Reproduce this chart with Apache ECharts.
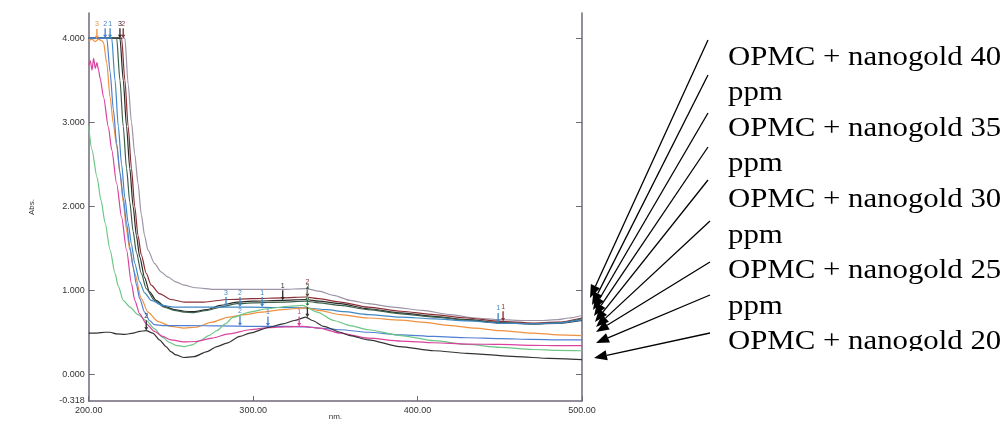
<!DOCTYPE html>
<html><head><meta charset="utf-8">
<script src="https://cdn.jsdelivr.net/npm/echarts@6/dist/echarts.min.js"></script>
<style>html,body{margin:0;padding:0;background:#fff}#c{width:1007px;height:421px}</style>
</head><body><div id="c"></div>
<script>
// ---- data (wavelength nm, absorbance) ----
const grayCurve = [[200,4.0],[222,4.0],[224,3.45],[226,3.0],[228,2.62],[230,2.27],[232,1.9],[234,1.65],[236,1.48],[240,1.32],[244,1.22],[248,1.16],[253,1.10],[258,1.06],[265,1.03],[277,1.01],[290,1.01],[300,1.01],[318,1.01],[332,1.02],[340,0.99],[349,0.94],[359,0.88],[370,0.84],[385,0.80],[403,0.76],[420,0.71],[435,0.67],[450,0.65],[465,0.64],[475,0.64],[485,0.65],[492,0.67],[500,0.70]];
const brownCurve = [[200,4.0],[220,4.0],[222,3.5],[224,2.95],[226,2.45],[228,2.0],[230,1.65],[232,1.42],[235,1.2],[238,1.06],[243,0.96],[250,0.89],[258,0.86],[270,0.86],[285,0.89],[300,0.90],[318,0.91],[332,0.92],[340,0.90],[353,0.86],[370,0.80],[390,0.75],[410,0.71],[430,0.67],[450,0.63],[470,0.61],[485,0.62],[500,0.67]];
const blackCurve = [[200,4.0],[219,4.0],[221,3.5],[223,2.95],[225,2.45],[227,2.0],[229,1.65],[231,1.4],[234,1.15],[237,0.98],[241,0.88],[246,0.81],[252,0.77],[258,0.75],[264,0.745],[272,0.77],[280,0.82],[290,0.86],[300,0.87],[318,0.88],[332,0.89],[340,0.87],[353,0.84],[370,0.78],[390,0.73],[410,0.69],[430,0.65],[450,0.615],[470,0.60],[485,0.605],[500,0.64]];
const darkGreenCurve = [[200,4.0],[217,4.0],[219,3.5],[221,2.95],[223,2.45],[225,2.05],[227,1.7],[229,1.45],[232,1.2],[235,1.02],[240,0.88],[246,0.80],[252,0.76],[258,0.74],[264,0.735],[272,0.76],[280,0.80],[290,0.84],[300,0.85],[318,0.86],[332,0.87],[340,0.85],[353,0.82],[370,0.77],[390,0.72],[410,0.68],[430,0.645],[450,0.61],[470,0.60],[485,0.61],[500,0.66]];
const tealCurve = [[200,4.0],[214,4.0],[216,3.5],[218,2.95],[220,2.5],[222,2.1],[224,1.8],[226,1.55],[228,1.32],[231,1.1],[234,0.97],[238,0.88],[245,0.82],[252,0.80],[260,0.80],[280,0.80],[298,0.80],[315,0.795],[330,0.79],[345,0.77],[355,0.745],[370,0.71],[390,0.68],[410,0.66],[430,0.635],[450,0.61],[470,0.60],[485,0.61],[500,0.65]];
const blueCurve = [[200,4.0],[211,4.0],[213,3.6],[215,3.15],[217,2.75],[219,2.4],[221,2.1],[223,1.8],[225,1.52],[227,1.28],[229,1.07],[231,0.9],[234,0.74],[237,0.64],[240,0.59],[245,0.58],[260,0.58],[280,0.575],[300,0.57],[320,0.57],[332,0.565],[340,0.55],[353,0.53],[370,0.50],[390,0.47],[410,0.45],[430,0.435],[450,0.425],[470,0.415],[485,0.41],[500,0.41]];
const orangeCurve = [[200,3.97],[202,3.99],[204,3.96],[206,3.99],[208,3.97],[209,3.95],[211,3.7],[213,3.3],[215,2.98],[217,2.72],[219,2.4],[221,2.05],[223,1.72],[225,1.48],[228,1.2],[232,0.9],[236,0.74],[242,0.63],[250,0.57],[258,0.55],[265,0.56],[275,0.62],[285,0.68],[295,0.71],[305,0.74],[318,0.77],[332,0.79],[340,0.76],[353,0.71],[370,0.67],[390,0.645],[403,0.62],[420,0.58],[435,0.55],[450,0.52],[470,0.49],[485,0.47],[500,0.46]];
const magentaCurve = [[200,3.68],[201,3.73],[202,3.62],[203,3.76],[204,3.64],[205,3.71],[206,3.62],[207,3.52],[209,3.3],[212,2.94],[214,2.67],[217,2.27],[220,1.87],[223,1.48],[226,1.08],[228,0.88],[231,0.72],[235,0.60],[240,0.51],[245,0.45],[250,0.41],[258,0.385],[265,0.39],[275,0.43],[285,0.48],[298,0.53],[310,0.555],[320,0.565],[330,0.57],[340,0.55],[353,0.49],[370,0.43],[390,0.395],[410,0.375],[430,0.36],[450,0.355],[470,0.345],[485,0.34],[500,0.34]];
const greenCurve = [[200,2.95],[202,2.67],[205,2.35],[207.5,2.07],[210,1.8],[213,1.48],[216,1.2],[218,1.05],[221,0.88],[225,0.80],[230,0.71],[235,0.64],[240,0.54],[245,0.44],[249,0.38],[253,0.345],[258,0.33],[263,0.35],[268,0.405],[273,0.46],[278,0.52],[283,0.60],[288,0.68],[298,0.74],[308,0.78],[322,0.81],[330,0.82],[339,0.74],[349,0.64],[359,0.58],[370,0.53],[390,0.46],[410,0.40],[430,0.355],[450,0.32],[470,0.295],[485,0.285],[500,0.28]];
const lowBlackCurve = [[200,0.49],[205,0.49],[210,0.50],[213,0.50],[217,0.48],[222,0.475],[227,0.49],[231,0.51],[235,0.52],[239,0.49],[243,0.41],[247,0.33],[250,0.27],[253,0.23],[258,0.20],[264,0.21],[272,0.27],[278,0.33],[284,0.37],[292,0.45],[298,0.49],[310,0.56],[318,0.60],[325,0.64],[332,0.68],[336,0.64],[343,0.57],[353,0.50],[359,0.46],[370,0.41],[389,0.33],[410,0.28],[430,0.25],[460,0.21],[480,0.19],[500,0.175]];

// peak-pick markers: [nm, abs, label]
const grayPeaks = [];
const brownPeaks = [[333,0.92,'2'],[452,0.63,'1'],[221,4.0,'2']];
const blackPeaks = [[318,0.88,'1'],[219,4.0,'3']];
const darkGreenPeaks = [[333,0.87,'3']];
const tealPeaks = [[283.5,0.80,'3'],[292,0.80,'2'],[305.5,0.80,'1'],[449,0.61,'1'],[213,4.0,'1']];
const bluePeaks = [[292,0.575,'2'],[309,0.57,'1'],[210,4.0,'2']];
const orangePeaks = [[205,3.99,'3']];
const magentaPeaks = [[328,0.57,'1']];
const greenPeaks = [[333,0.81,'1']];
const lowBlackPeaks = [[235,0.52,'2'],[333,0.68,'1']];

const yTickLabels = [-0.318, 0, 1, 2, 3, 4];
const yTicks = [0, 1, 2, 3, 4];
const xMin = 200, xMax = 500, xStep = 100;
const legendLines = ["OPMC + nanogold 40", "ppm", "OPMC + nanogold 35", "ppm", "OPMC + nanogold 30", "ppm", "OPMC + nanogold 25", "ppm", "OPMC + nanogold 20"];

// ---- annotation geometry (pixels) ----
const arrowGeom = [
  [708,40,590,298],[708,75,592,305],[708,113,593,310],[708,147,594,316],[708,180,595,322],
  [710,221,596,327],[710,262,596,332],[710,295,596,343],[710,333,594,358]
];

const curves = [
  [grayCurve,'#9d94a6',grayPeaks],[brownCurve,'#8c2f34',brownPeaks],[blackCurve,'#2a2a2a',blackPeaks],[darkGreenCurve,'#3b6049',darkGreenPeaks],
  [tealCurve,'#3f88c5',tealPeaks],[orangeCurve,'#f0913f',orangePeaks],[blueCurve,'#4f7fd3',bluePeaks],[greenCurve,'#6cc686',greenPeaks],
  [magentaCurve,'#d9429e',magentaPeaks],[lowBlackCurve,'#333333',lowBlackPeaks]
];

const axisColor = '#6f6878';
const arrowPath = 'path://M2,0 L4,0 L4,8 L6,8 L3,12 L0,8 L2,8 Z';
const chart = echarts.init(document.getElementById('c'));

const graphics = [];
arrowGeom.forEach(function(a){
  const dx=a[2]-a[0], dy=a[3]-a[1], L=Math.sqrt(dx*dx+dy*dy), ux=dx/L, uy=dy/L;
  const hl=13, hw=5;
  const bx=a[2]-ux*hl, by=a[3]-uy*hl, nx=-uy, ny=ux;
  graphics.push({type:'line', shape:{x1:a[0],y1:a[1],x2:bx,y2:by}, style:{stroke:'#000',lineWidth:1.3}, z:50});
  graphics.push({type:'polygon', shape:{points:[[a[2],a[3]],[bx+nx*hw,by+ny*hw],[bx-nx*hw,by-ny*hw]]}, style:{fill:'#000'}, z:50});
});
graphics.push({type:'text', x:728, y:39.5, scaleX:1.1, z:40,
  style:{text:legendLines.join('\n'), font:'28px "Liberation Serif"', fill:'#000', lineHeight:35.6, verticalAlign:'top', align:'left'}});
graphics.push({type:'rect', shape:{x:715,y:351,width:292,height:70}, style:{fill:'#fff'}, z:60});

chart.setOption({
  animation:false,
  backgroundColor:'#fff',
  grid:{left:88.7, right:425, top:13, bottom:20, containLabel:false, outerBoundsMode:'none'},
  xAxis:{type:'value', min:xMin, max:xMax, interval:xStep,
    name:'nm.', nameLocation:'middle', nameGap:12, nameMoveOverlap:false,
    nameTextStyle:{fontSize:8, color:'#333', fontFamily:'Liberation Sans'},
    axisLine:{show:true, onZero:false, lineStyle:{color:axisColor, width:1.5}},
    axisTick:{show:true, inside:true, length:5, lineStyle:{color:axisColor}},
    axisLabel:{formatter:function(v){return v.toFixed(2);}, fontSize:9, color:'#333', fontFamily:'Liberation Sans', margin:5, showMinLabel:true, showMaxLabel:true},
    splitLine:{show:false}},
  yAxis:[{type:'value', min:-0.318, max:4.3, position:'left',
    name:'Abs.', nameLocation:'middle', nameGap:53, nameRotate:90, nameMoveOverlap:false,
    nameTextStyle:{fontSize:8, color:'#333', fontFamily:'Liberation Sans'},
    axisLine:{show:true, onZero:false, lineStyle:{color:axisColor, width:1.5}},
    axisTick:{show:true, inside:true, length:6, customValues:yTicks, lineStyle:{color:axisColor}},
    axisLabel:{customValues:yTickLabels, formatter:function(v){return Number(v).toFixed(3);}, fontSize:9, color:'#333', fontFamily:'Liberation Sans', margin:4},
    splitLine:{show:false}},
   {type:'value', min:-0.318, max:4.3, position:'right',
    axisLine:{show:true, onZero:false, lineStyle:{color:axisColor, width:1.5}},
    axisTick:{show:true, inside:true, length:6, customValues:yTicks, lineStyle:{color:axisColor}},
    axisLabel:{show:false}, splitLine:{show:false}}],
  series: curves.map(function(c){
    return {type:'line', data:c[0], yAxisIndex:0, showSymbol:false, smooth:0.25, smoothMonotone:'x',
      lineStyle:{color:c[1], width:1.2}, itemStyle:{color:c[1]},
      markPoint:{symbol:arrowPath, symbolSize:[4,10], symbolOffset:[0,'-50%'], silent:true,
        itemStyle:{color:c[1]},
        label:{show:true, position:'top', distance:1, fontSize:7, color:c[1], fontFamily:'Liberation Sans', formatter:function(p){return p.name;}},
        data:c[2].map(function(m){return {coord:[m[0],m[1]], name:m[2], value:m[2]};})}};
  }),
  graphic: graphics
});
</script></body></html>
